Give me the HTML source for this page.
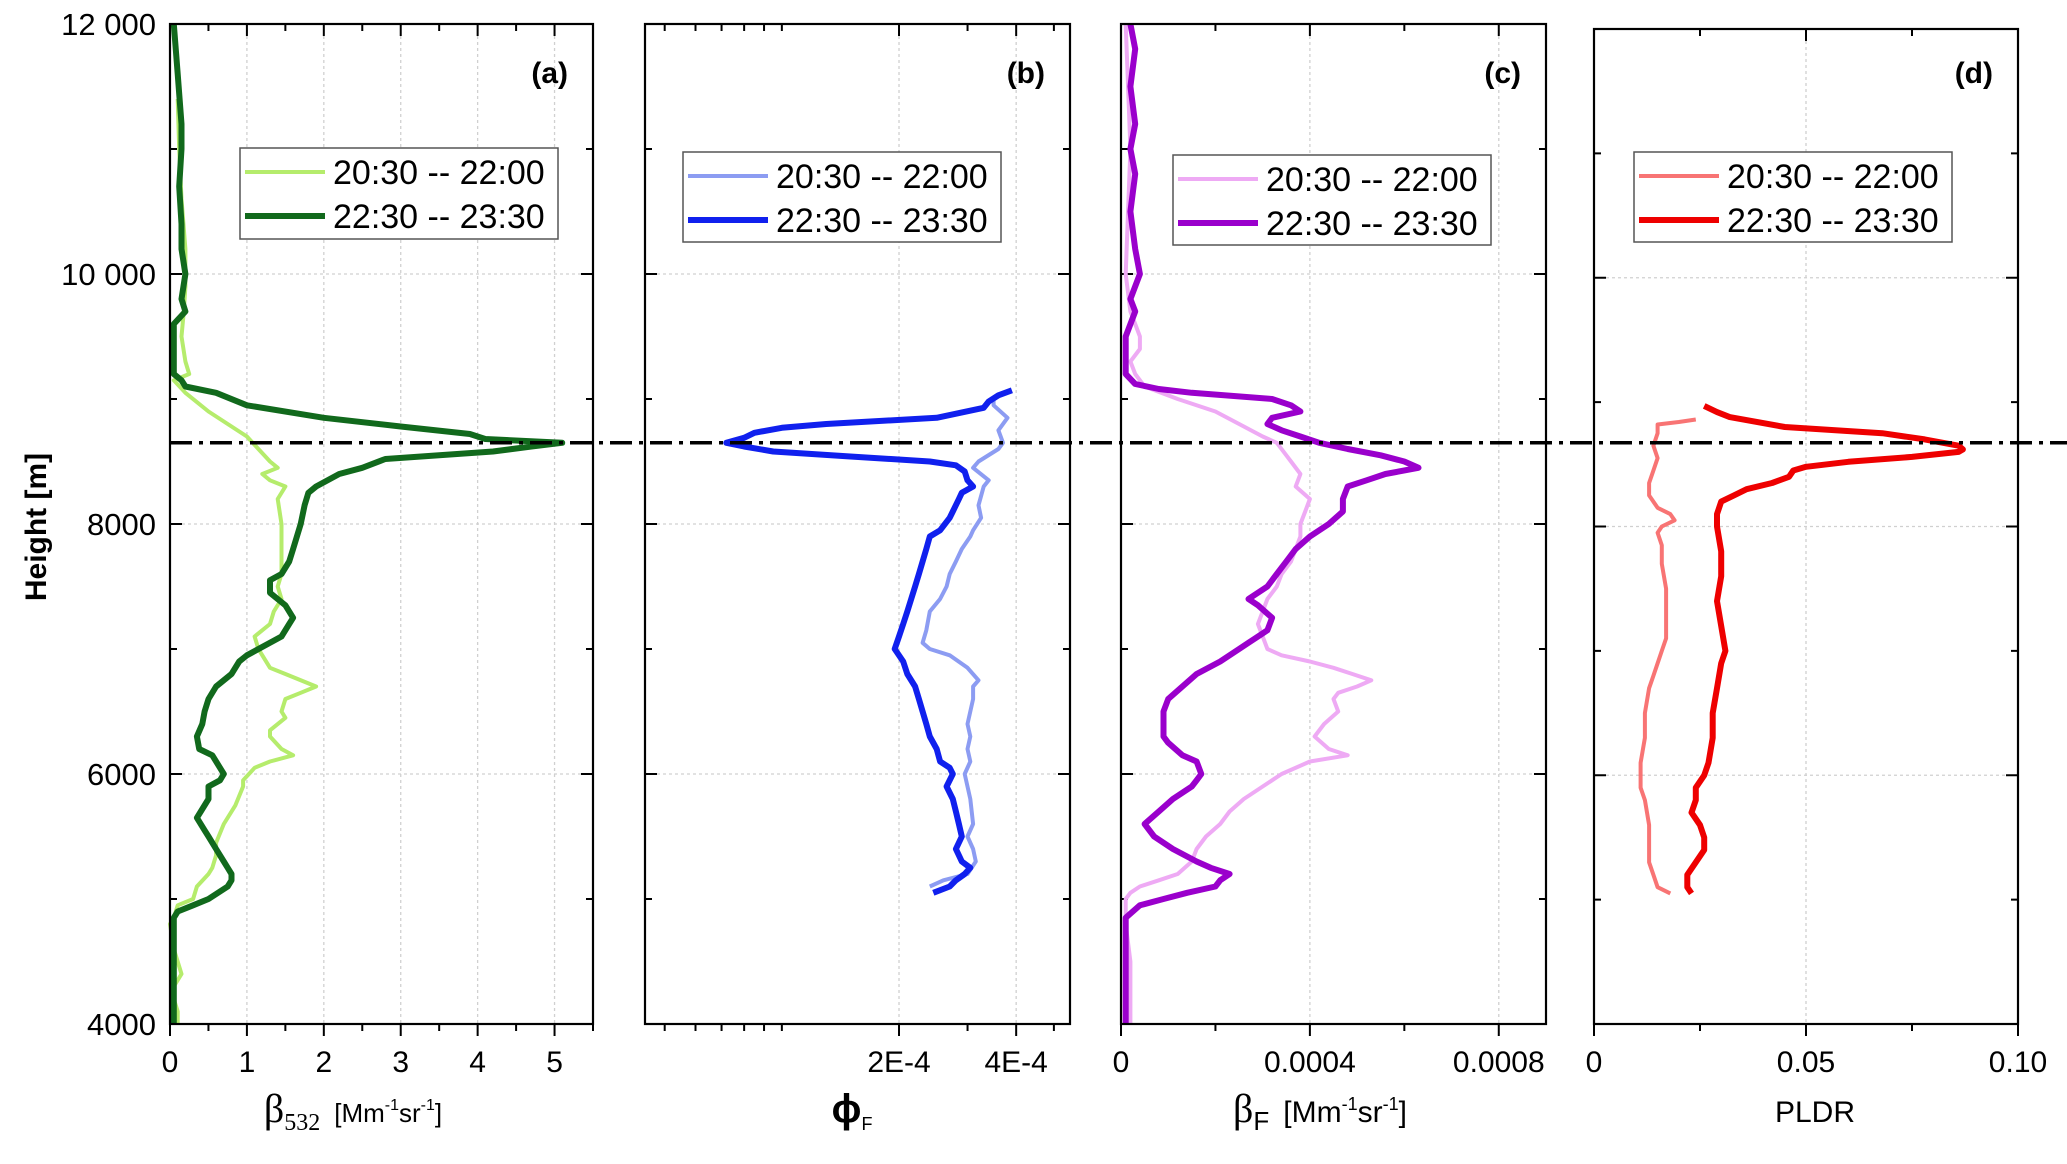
<!DOCTYPE html>
<html><head><meta charset="utf-8"><style>
html,body{margin:0;padding:0;background:#fff;}
svg{display:block;font-family:"Liberation Sans",sans-serif;}
</style></head><body>
<svg id="chart" width="2067" height="1164" viewBox="0 0 2067 1164" xmlns="http://www.w3.org/2000/svg"></svg>
<script>
// ---- data (heights in m, values per panel) ----
const yTicks = [4000, 6000, 8000, 10000, 12000];
const yTickLabels = ["4000", "6000", "8000", "10 000", "12 000"];
const seriesLabels = ["20:30 -- 22:00", "22:30 -- 23:30"];
const markerHeight = 8650;

// panel a: beta532 [Mm-1 sr-1]
const aLightH = [11400,11000,10600,10200,9900,9700,9500,9300,9200,9150,9050,8900,8800,8700,8600,8500,8450,8400,8350,8300,8200,8000,7800,7600,7500,7400,7300,7200,7100,7000,6950,6850,6800,6700,6650,6600,6500,6450,6350,6300,6200,6150,6100,6050,5950,5900,5750,5600,5450,5350,5250,5200,5100,5000,4950,4850,4800,4600,4400,4300,4200,4100,4000];
const aLightV = [0.1,0.12,0.15,0.2,0.2,0.18,0.15,0.2,0.25,0.05,0.2,0.5,0.75,1.0,1.15,1.3,1.4,1.2,1.3,1.5,1.4,1.45,1.45,1.45,1.4,1.45,1.35,1.3,1.1,1.15,1.2,1.3,1.5,1.9,1.7,1.5,1.45,1.5,1.3,1.3,1.45,1.6,1.3,1.1,0.95,0.95,0.85,0.7,0.6,0.6,0.55,0.5,0.35,0.3,0.1,0.05,0.0,0.05,0.15,0.05,0.05,0.1,0.1];
const aDarkH = [12000,11600,11200,11000,10700,10400,10200,10000,9800,9700,9600,9400,9200,9150,9100,9050,8950,8850,8780,8720,8680,8650,8620,8580,8520,8450,8400,8300,8250,8150,8000,7900,7800,7700,7600,7550,7450,7350,7250,7200,7100,7050,6950,6900,6800,6700,6600,6500,6400,6300,6200,6150,6050,6000,5950,5900,5800,5700,5650,5550,5500,5400,5300,5250,5200,5150,5100,5000,4950,4900,4850,4700,4500,4200,4000];
const aDarkV = [0.05,0.1,0.15,0.15,0.12,0.15,0.15,0.2,0.15,0.2,0.05,0.05,0.05,0.15,0.2,0.6,1.0,2.0,3.0,3.9,4.1,5.1,4.7,4.2,2.8,2.5,2.2,1.9,1.8,1.75,1.7,1.65,1.6,1.55,1.45,1.3,1.3,1.5,1.6,1.55,1.45,1.3,1.0,0.9,0.8,0.6,0.5,0.45,0.42,0.35,0.38,0.55,0.65,0.7,0.65,0.5,0.5,0.4,0.35,0.45,0.5,0.6,0.7,0.75,0.8,0.8,0.75,0.5,0.3,0.1,0.05,0.05,0.05,0.05,0.05];

// panel b: phi_F (log axis)
const bLightH = [9000,8950,8850,8750,8650,8600,8500,8450,8350,8300,8150,8050,7950,7900,7800,7700,7600,7500,7400,7300,7150,7050,7000,6950,6850,6750,6700,6600,6400,6300,6200,6100,6000,5900,5800,5600,5500,5400,5300,5200,5150,5100];
const bLightV = [3.5e-4,3.5e-4,3.8e-4,3.6e-4,3.7e-4,3.6e-4,3.2e-4,3.1e-4,3.4e-4,3.3e-4,3.2e-4,3.25e-4,3.1e-4,3.05e-4,2.9e-4,2.8e-4,2.7e-4,2.65e-4,2.55e-4,2.4e-4,2.35e-4,2.3e-4,2.4e-4,2.7e-4,3.0e-4,3.2e-4,3.1e-4,3.1e-4,3.0e-4,3.05e-4,3.0e-4,3.05e-4,2.95e-4,3.0e-4,3.05e-4,3.1e-4,3.0e-4,3.1e-4,3.15e-4,3.0e-4,2.6e-4,2.4e-4];
const bDarkH = [9070,9030,8980,8930,8850,8800,8770,8730,8690,8650,8620,8580,8540,8500,8470,8420,8350,8300,8250,8200,8100,8050,7950,7900,7800,7700,7600,7500,7400,7300,7200,7100,7000,6900,6800,6700,6600,6500,6400,6300,6200,6100,6050,6000,5900,5800,5700,5600,5500,5400,5300,5250,5200,5150,5100,5050];
const bDarkV = [3.9e-4,3.6e-4,3.4e-4,3.3e-4,2.5e-4,1.3e-4,1.0e-4,0.85e-4,0.8e-4,0.72e-4,0.8e-4,0.95e-4,1.5e-4,2.4e-4,2.8e-4,2.95e-4,3.0e-4,3.1e-4,2.9e-4,2.85e-4,2.75e-4,2.7e-4,2.55e-4,2.4e-4,2.35e-4,2.3e-4,2.25e-4,2.2e-4,2.15e-4,2.1e-4,2.05e-4,2.0e-4,1.95e-4,2.05e-4,2.1e-4,2.2e-4,2.25e-4,2.3e-4,2.35e-4,2.4e-4,2.5e-4,2.55e-4,2.7e-4,2.75e-4,2.65e-4,2.75e-4,2.8e-4,2.85e-4,2.9e-4,2.8e-4,2.9e-4,3.05e-4,2.95e-4,2.8e-4,2.7e-4,2.45e-4];

// panel c: beta_F [Mm-1 sr-1]
const cLightH = [12000,11000,10000,9700,9600,9500,9400,9300,9200,9100,9000,8900,8800,8700,8650,8550,8500,8400,8300,8200,8100,8000,7900,7800,7700,7600,7500,7400,7300,7200,7100,7000,6950,6900,6850,6800,6750,6700,6650,6600,6500,6400,6300,6200,6150,6100,6000,5900,5800,5700,5600,5500,5400,5300,5200,5150,5100,5050,5000,4800,4500,4200,4000];
const cLightV = [0.00001,0.00002,0.00001,0.00002,0.00003,0.00004,0.00004,0.00002,0.00003,0.00005,0.00012,0.0002,0.00025,0.0003,0.00033,0.00035,0.00036,0.00038,0.00037,0.0004,0.00039,0.00038,0.00038,0.00037,0.00036,0.00034,0.00033,0.00031,0.0003,0.00029,0.0003,0.00031,0.00034,0.0004,0.00045,0.00049,0.00053,0.0005,0.00046,0.00045,0.00046,0.00043,0.00041,0.00044,0.00048,0.0004,0.00034,0.0003,0.00026,0.00023,0.00021,0.00018,0.00016,0.00015,0.00012,0.00008,0.00004,0.00002,0.00001,0.00001,0.00002,0.00002,0.00002];
const cDarkH = [12000,11800,11500,11200,11000,10800,10500,10200,10000,9800,9700,9500,9300,9200,9120,9080,9050,9000,8950,8900,8850,8800,8750,8700,8650,8600,8550,8500,8450,8400,8350,8300,8200,8100,8000,7900,7800,7700,7600,7500,7400,7350,7250,7150,7050,7000,6900,6800,6700,6600,6500,6400,6300,6250,6150,6100,6000,5950,5900,5800,5700,5600,5500,5400,5300,5250,5200,5150,5100,5050,5000,4950,4850,4700,4400,4000];
const cDarkV = [0.00002,0.00003,0.00002,0.00003,0.00002,0.00003,0.00002,0.00003,0.00004,0.00002,0.00003,0.00001,0.00001,0.00001,0.00003,0.00008,0.00015,0.00032,0.00036,0.00038,0.00032,0.00031,0.00034,0.00038,0.00042,0.00048,0.00055,0.00060,0.00063,0.00056,0.00052,0.00048,0.00047,0.00047,0.00044,0.00040,0.00037,0.00035,0.00033,0.00031,0.00027,0.00029,0.00032,0.00031,0.00027,0.00025,0.00021,0.00016,0.00013,0.00010,0.00009,0.00009,0.00009,0.00010,0.00013,0.00016,0.00017,0.00016,0.00015,0.00011,0.00008,0.00005,0.00007,0.00011,0.00016,0.00019,0.00023,0.00021,0.00020,0.00014,0.00009,0.00004,0.00001,0.00001,0.00001,0.00001];

// panel d: PLDR
const dLightH = [8860,8840,8820,8750,8650,8550,8450,8350,8250,8150,8100,8050,8000,7950,7850,7700,7500,7300,7100,7000,6900,6800,6700,6500,6300,6100,6000,5900,5800,5600,5400,5300,5200,5100,5050];
const dLightV = [0.024,0.020,0.015,0.015,0.014,0.015,0.014,0.013,0.013,0.015,0.018,0.019,0.016,0.015,0.016,0.016,0.017,0.017,0.017,0.016,0.015,0.014,0.013,0.012,0.012,0.011,0.011,0.011,0.012,0.013,0.013,0.013,0.014,0.015,0.018];
const dDarkH = [8970,8920,8880,8800,8750,8700,8650,8620,8600,8560,8520,8480,8450,8400,8350,8300,8250,8200,8100,8000,7800,7600,7400,7200,7000,6900,6700,6500,6300,6100,6000,5900,5800,5700,5600,5500,5400,5300,5200,5100,5050];
const dDarkV = [0.026,0.029,0.032,0.045,0.068,0.078,0.086,0.087,0.086,0.075,0.060,0.050,0.047,0.046,0.042,0.036,0.033,0.030,0.029,0.029,0.030,0.030,0.029,0.030,0.031,0.030,0.029,0.028,0.028,0.027,0.026,0.024,0.024,0.023,0.025,0.026,0.026,0.024,0.022,0.022,0.023];

// x tick arrays
const aXTicks = [0,1,2,3,4,5];
const bXTicks = [2e-4, 4e-4];
const bXTickLabels = ["2E-4", "4E-4"];
const cXTicks = [0, 0.0004, 0.0008];
const cXTickLabels = ["0", "0.0004", "0.0008"];
const dXTicks = [0, 0.05, 0.10];
const dXTickLabels = ["0", "0.05", "0.10"];

const NS = "http://www.w3.org/2000/svg";
const svg = document.getElementById("chart");
function mk(tag, attrs, parent) {
  const e = document.createElementNS(NS, tag);
  for (const k in attrs) e.setAttribute(k, attrs[k]);
  (parent || svg).appendChild(e);
  return e;
}
const Y0 = 1024, Y1 = 24;
function yScale(h) { return Y0 - (h - 4000) / 8000 * (Y0 - Y1); }

const panels = [
  {key:"a", x0:170, x1:593, dmin:0, dmax:5.5, log:false, ticks:aXTicks, labels:aXTicks.map(String),
   light:[aLightH,aLightV], dark:[aDarkH,aDarkV], cl:"#b5ec6c", cd:"#11691c", lg:[240,148,318,91], top:24},
  {key:"b", x0:645, x1:1070, dmin:4.45e-5, dmax:5.5e-4, log:true, ticks:bXTicks, labels:bXTickLabels,
   light:[bLightH,bLightV], dark:[bDarkH,bDarkV], cl:"#8c9cf2", cd:"#1020ee", lg:[683,152,318,90], top:24},
  {key:"c", x0:1121, x1:1546, dmin:0, dmax:0.0009, log:false, ticks:cXTicks, labels:cXTickLabels,
   light:[cLightH,cLightV], dark:[cDarkH,cDarkV], cl:"#eeaaf4", cd:"#9a00cc", lg:[1173,155,318,90], top:24},
  {key:"d", x0:1594, x1:2018, dmin:0, dmax:0.1, log:false, ticks:dXTicks, labels:dXTickLabels,
   light:[dLightH,dLightV], dark:[dDarkH,dDarkV], cl:"#f87474", cd:"#ee0000", lg:[1634,152,318,90], top:29}
];

panels.forEach(p => {
  const g = mk("g", {});
  
  
  const xs = v => p.log
    ? p.x0 + (Math.log10(v) - Math.log10(p.dmin)) / (Math.log10(p.dmax) - Math.log10(p.dmin)) * (p.x1 - p.x0)
    : p.x0 + (v - p.dmin) / (p.dmax - p.dmin) * (p.x1 - p.x0);
  const top = p.top;
  const ys = h => Y0 - (h - 4000) / 8000 * (Y0 - top);
  [6000, 8000, 10000].forEach(h => {
    const l = mk("line", {x1:p.x0, x2:p.x1, y1:ys(h), y2:ys(h), stroke:"#d0d0d0", "stroke-width":1.3, "stroke-dasharray":"3,3"}, g);
    
    
  });
  p.ticks.forEach(t => {
    if (t <= p.dmin || t >= p.dmax) return;
    const l = mk("line", {x1:xs(t), x2:xs(t), y1:top, y2:Y0, stroke:"#d0d0d0", "stroke-width":1.3, "stroke-dasharray":"3,3"}, g);
    
    
  });
  for (let h = 4000; h <= 12000; h += 1000) {
    const len = (h % 2000 === 0) ? 12 : 7;
    mk("line", {x1:p.x0, x2:p.x0 + len, y1:ys(h), y2:ys(h), stroke:"#000", "stroke-width":2}, g);
    mk("line", {x1:p.x1, x2:p.x1 - len, y1:ys(h), y2:ys(h), stroke:"#000", "stroke-width":2}, g);
  }
  if (p.log) {
    for (let d = -5; d <= -3; d++) for (let m = 1; m <= 9; m++) {
      const v = m * Math.pow(10, d);
      if (v <= p.dmin || v >= p.dmax) continue;
      const isMaj = bXTicks.some(t => Math.abs(t - v) < 1e-12);
      const len = isMaj ? 12 : 7;
      mk("line", {x1:xs(v), x2:xs(v), y1:Y0, y2:Y0 + len, stroke:"#000", "stroke-width":2}, g);
      mk("line", {x1:xs(v), x2:xs(v), y1:top, y2:top + len, stroke:"#000", "stroke-width":2}, g);
    }
  } else {
    const step = (p.ticks[1] - p.ticks[0]) / 2;
    for (let v = p.dmin; v <= p.dmax + 1e-12; v += step) {
      const k = Math.round((v - p.dmin) / step);
      const len = (k % 2 === 0) ? 12 : 7;
      mk("line", {x1:xs(v), x2:xs(v), y1:Y0, y2:Y0 + len, stroke:"#000", "stroke-width":2}, g);
      mk("line", {x1:xs(v), x2:xs(v), y1:top, y2:top + len, stroke:"#000", "stroke-width":2}, g);
    }
  }
  p.ticks.forEach((t, i) => {
    const tx = mk("text", {x:xs(t), y:1072, "font-size":30, "text-anchor":"middle", fill:"#000"}, g);
    tx.textContent = p.labels[i];
    
    
  });
  const drawSeries = (arr, color, w, name) => {
    const [H, V] = arr;
    let d = "";
    for (let i = 0; i < H.length; i++) d += (i ? "L" : "M") + xs(V[i]).toFixed(1) + "," + ys(H[i]).toFixed(1);
    const path = mk("path", {d:d, fill:"none", stroke:color, "stroke-width":w, "stroke-linejoin":"round"}, g);
    
    
  };
  drawSeries(p.light, p.cl, 4, 'series-' + p.key + '-2030-2200');
  drawSeries(p.dark, p.cd, 6, 'series-' + p.key + '-2230-2330');
  const fr = mk("rect", {x:p.x0, y:top, width:p.x1 - p.x0, height:Y0 - top, fill:"none", stroke:"#000", "stroke-width":2.2}, g);
  
  
  const pl = mk("text", {x:p.x1 - 25, y:83, "font-size":30, "font-weight":"bold", "text-anchor":"end"}, g);
  pl.textContent = "(" + p.key + ")";
  
  
  const [lx, ly, lw, lh] = p.lg;
  const lgG = mk("g", {}, g);
  
  
  mk("rect", {x:lx, y:ly, width:lw, height:lh, fill:"#fff", stroke:"#555", "stroke-width":1.5}, lgG);
  [[p.cl, 4], [p.cd, 6]].forEach((c, i) => {
    const yy = ly + 24 + i * 44;
    mk("line", {x1:lx + 5, x2:lx + 85, y1:yy, y2:yy, stroke:c[0], "stroke-width":c[1]}, lgG);
    const t = mk("text", {x:lx + 93, y:yy + 12, "font-size":34, fill:"#000"}, lgG);
    t.textContent = seriesLabels[i];
    
    
  });
});

yTicks.forEach((h, i) => {
  const t = mk("text", {x:156, y:yScale(h) + 11, "font-size":31, "text-anchor":"end"});
  t.textContent = yTickLabels[i];
  
  
});
const yt = mk("text", {x:0, y:0, "font-size":30, "font-weight":"bold", "text-anchor":"middle", transform:"translate(46,527) rotate(-90)"});
yt.textContent = "Height [m]";



const ref = mk("line", {x1:170, x2:2067, y1:yScale(markerHeight), y2:yScale(markerHeight), stroke:"#000", "stroke-width":3.5, "stroke-dasharray":"22,7,4,7"});



function xTitle(x, html, name) {
  const t = mk("text", {x:x, y:1122, "font-size":34, "text-anchor":"middle"});
  t.innerHTML = html;
  
  
}
xTitle(353, '<tspan font-family="Liberation Serif" font-size="40">β</tspan><tspan font-family="Liberation Serif" font-size="24" dy="8">532</tspan><tspan font-size="26" dy="-8" dx="14">[Mm</tspan><tspan font-size="16" dy="-12">-1</tspan><tspan font-size="26" dy="12">sr</tspan><tspan font-size="16" dy="-12">-1</tspan><tspan font-size="26" dy="12">]</tspan>', 'x-axis-title-a');
xTitle(852, '<tspan font-size="40" font-weight="bold">ϕ</tspan><tspan font-size="18" dy="8">F</tspan>', 'x-axis-title-b');
xTitle(1320, '<tspan font-family="Liberation Serif" font-size="40">β</tspan><tspan font-size="26" dy="8">F</tspan><tspan font-size="30" dy="-8" dx="14">[Mm</tspan><tspan font-size="18" dy="-12">-1</tspan><tspan font-size="30" dy="12">sr</tspan><tspan font-size="18" dy="-12">-1</tspan><tspan font-size="30" dy="12">]</tspan>', 'x-axis-title-c');
xTitle(1815, '<tspan font-size="30">PLDR</tspan>', 'x-axis-title-d');
</script>
</body></html>
